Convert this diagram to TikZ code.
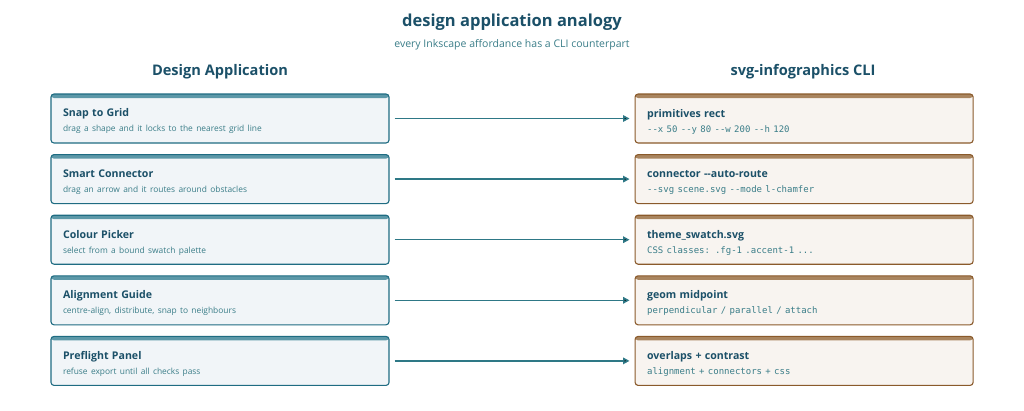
\documentclass[tikz,border=0pt]{standalone}
\usepackage{fontspec}
\setmainfont{Open Sans}
\setmonofont{DejaVu Sans Mono}
\usetikzlibrary{positioning,arrows.meta}
\definecolor{ink}{HTML}{1B5068}
\definecolor{teal}{HTML}{1F6C82}
\definecolor{tealfill}{HTML}{F1F5F8}
\definecolor{tealband}{HTML}{5C98A8}
\definecolor{tealtext}{HTML}{3A7D88}
\definecolor{brown}{HTML}{8A5A2B}
\definecolor{brownfill}{HTML}{F8F4F0}
\definecolor{brownband}{HTML}{A9855F}
\definecolor{link}{HTML}{2E7886}
\tikzset{card/.style={rounded corners=3pt,line width=1.1pt,minimum width=338pt,
  minimum height=49pt,text width=314pt,inner xsep=12pt,align=left,
  path picture={\fill[#1] (path picture bounding box.north west)
    rectangle ([yshift=-4pt]path picture bounding box.north east);}}}
\tikzset{appbox/.style={card=tealband,draw=teal,fill=tealfill}}
\tikzset{clibox/.style={card=brownband,draw=brown,fill=brownfill}}
\tikzset{mapsto/.style={draw=link,line width=1.5pt,shorten <=5pt,shorten >=5pt,
  -{Triangle[length=6.5pt,width=6.5pt]}}}
\newcommand{\cardtitle}[1]{{\fontsize{10.6}{13}\selectfont\bfseries\color{ink}\rule{0pt}{14pt}#1}\\[3pt]}
\newcommand{\cardnote}[1]{{\fontsize{8.4}{10}\selectfont\color{tealtext}#1}}
\newcommand{\cardcode}[1]{{\fontsize{9}{10}\selectfont\ttfamily\color{tealtext}#1}}

\begin{document}
\begin{tikzpicture}[x=1pt,y=-1pt,node distance=10.5pt]
  \useasboundingbox (0,0) rectangle (1024,410);
  \node[font=\fontsize{16.5}{19}\selectfont\bfseries,text=ink] (title) at (512,22) {design application analogy};
  \node[font=\fontsize{10.5}{12}\selectfont,text=tealtext] (subtitle) at (512,45) {every Inkscape affordance has a CLI counterpart};
  \node[font=\fontsize{14.6}{17}\selectfont\bfseries,text=ink] (lefthead) at (220,72) {Design Application};
  \node[font=\fontsize{14.6}{17}\selectfont\bfseries,text=ink] (righthead) at (803,72) {svg-infographics CLI};
  % design application side
  \node[appbox] (snap) at (220,118.5)
    {\cardtitle{Snap to Grid}\cardnote{drag a shape and it locks to the nearest grid line}};
  \node[appbox,below=of snap] (smart)
    {\cardtitle{Smart Connector}\cardnote{drag an arrow and it routes around obstacles}};
  \node[appbox,below=of smart] (picker)
    {\cardtitle{Colour Picker}\cardnote{select from a bound swatch palette}};
  \node[appbox,below=of picker] (guide)
    {\cardtitle{Alignment Guide}\cardnote{centre-align, distribute, snap to neighbours}};
  \node[appbox,below=of guide] (preflight)
    {\cardtitle{Preflight Panel}\cardnote{refuse export until all checks pass}};
  % cli side
  \node[clibox,right=245pt of snap] (rect)
    {\cardtitle{primitives rect}\cardcode{--x 50 --y 80 --w 200 --h 120}};
  \node[clibox,right=245pt of smart] (route)
    {\cardtitle{connector {-}{-}auto-route}\cardcode{--svg scene.svg --mode l-chamfer}};
  \node[clibox,right=245pt of picker] (swatch)
    {\cardtitle{theme\_swatch.svg}\cardcode{CSS classes: .fg-1 .accent-1 ...}};
  \node[clibox,right=245pt of guide] (midpoint)
    {\cardtitle{geom midpoint}\cardcode{perpendicular / parallel / attach}};
  \node[clibox,right=245pt of preflight] (checks)
    {\cardtitle{overlaps + contrast}\cardcode{alignment + connectors + css}};
  \path[mapsto]
    (snap) edge (rect)
    (smart) edge (route)
    (picker) edge (swatch)
    (guide) edge (midpoint)
    (preflight) edge (checks);
\end{tikzpicture}
\end{document}
